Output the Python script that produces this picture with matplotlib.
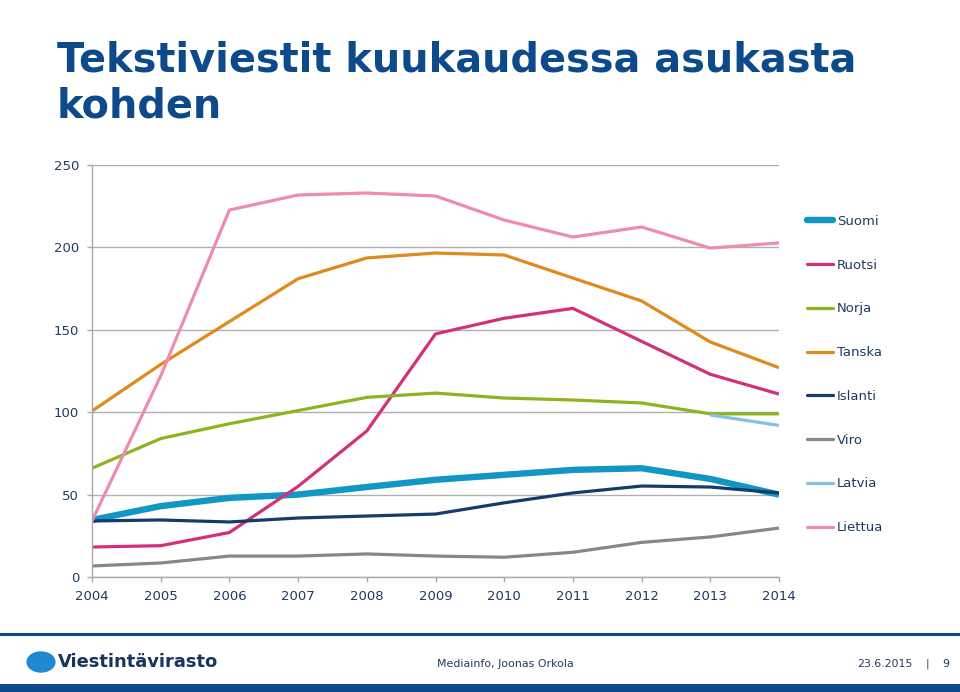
import matplotlib
matplotlib.use("Agg")
import matplotlib.pyplot as plt
from matplotlib.patches import Circle, Rectangle
from matplotlib.lines import Line2D

years = [2004, 2005, 2006, 2007, 2008, 2009, 2010, 2011, 2012, 2013, 2014]
suomi   = [34.6, 43, 48, 50, 54.6, 59, 62, 65, 66, 59.5, 50]
ruotsi  = [18.2, 19, 27, 55, 88.6, 147.5, 157, 163, 143, 123, 111]
norja   = [66, 84, 93, 101, 109, 111.6, 108.6, 107.4, 105.6, 99, 99]
tanska  = [100.7, 129, 155, 181, 193.6, 196.6, 195.4, 181.4, 167.5, 142.6, 127]
islanti = [34, 34.6, 33.4, 35.8, 37, 38.2, 45, 51, 55.2, 54.6, 51]
viro    = [6.7, 8.5, 12.7, 12.7, 14, 12.7, 12, 15, 21, 24.3, 29.7]
latvia_years = [2013, 2014]
latvia  = [98.3, 92]
liettua = [34, 122, 222.7, 231.8, 233, 231.2, 216.6, 206.3, 212.4, 199.6, 202.7]

yticks = [0, 50, 100, 150, 200, 250]

title_lines = ["Tekstiviestit kuukaudessa asukasta", "kohden"]
navy = "#0D4A8A"
text_col = "#1F3A5F"

fig = plt.figure(figsize=(9.6, 6.92), dpi=100)
ax = fig.add_axes([92/960, 1-577/692, (779-92)/960, (577-165)/692])

lw = 2.3
series = [
    ("Suomi", years, suomi, "#1296C6", 4.6),
    ("Ruotsi", years, ruotsi, "#D3307A", lw),
    ("Norja", years, norja, "#8DB321", lw),
    ("Tanska", years, tanska, "#DE8A1C", lw),
    ("Islanti", years, islanti, "#133C6C", lw),
    ("Viro", years, viro, "#878787", lw),
    ("Latvia", latvia_years, latvia, "#86C0E2", lw),
    ("Liettua", years, liettua, "#EE8CB0", lw),
]
handles = []
for name, xs, ys, c, w in series:
    h, = ax.plot(xs, ys, color=c, lw=w, label=name, solid_capstyle="butt", solid_joinstyle="round")
    handles.append(h)

ax.set_xlim(2004, 2014)
ax.set_ylim(0, 250)
ax.set_xticks(years)
ax.set_yticks(yticks)
ax.yaxis.grid(True, color="#B0B0B0", lw=1.0)
ax.set_axisbelow(True)
for s in ["top", "right"]:
    ax.spines[s].set_visible(False)
for s in ["left", "bottom"]:
    ax.spines[s].set_color("#A8A8A8")
    ax.spines[s].set_linewidth(1.0)
ax.tick_params(axis="both", colors="#A8A8A8", labelcolor=text_col, labelsize=9.5, length=3.5, width=1)
ax.tick_params(axis="x", pad=6)
ax.tick_params(axis="y", pad=5.8)

leg = fig.legend(handles=handles, loc="upper left", bbox_to_anchor=(807/960, 1-215/692),
                 frameon=False, fontsize=9.5, handlelength=2.0, handletextpad=0.25,
                 labelspacing=2.33, borderaxespad=0, borderpad=0)
for t in leg.get_texts():
    t.set_color(text_col)
for lh in leg.get_lines():
    lh.set_solid_capstyle("round")

fig.text(57/960, 1-72/692, title_lines[0], fontsize=28.7, fontweight="bold", color=navy,
         va="baseline", ha="left")
fig.text(57/960, 1-118/692, title_lines[1], fontsize=28.7, fontweight="bold", color=navy,
         va="baseline", ha="left")

# footer
fig.add_artist(Line2D([0, 1], [1-634/692, 1-634/692], color="#0D4A8A", lw=2.2, transform=fig.transFigure))
fig.add_artist(Rectangle((0, 0), 1, 8/692, color="#0D4A8A", transform=fig.transFigure, lw=0))
fig.add_artist(Circle((41/960, 1-662/692), 10/692, transform=fig.transFigure, color="#1E88D0"))
fig.text(58/960, 1-662/692, "Viestintävirasto", fontsize=12.9, fontweight="bold", color="#17355F",
         va="center", ha="left")
fig.text(505/960, 1-664/692, "Mediainfo, Joonas Orkola", fontsize=7.9, color="#1F3A5F", va="center", ha="center")
fig.text(913/960, 1-664/692, "23.6.2015", fontsize=7.9, color="#1F3A5F", va="center", ha="right")
fig.text(927/960, 1-664/692, "|", fontsize=7.9, color="#1F3A5F", va="center", ha="center")
fig.text(946/960, 1-664/692, "9", fontsize=7.9, color="#1F3A5F", va="center", ha="center")

fig.savefig("out.png", dpi=100)
